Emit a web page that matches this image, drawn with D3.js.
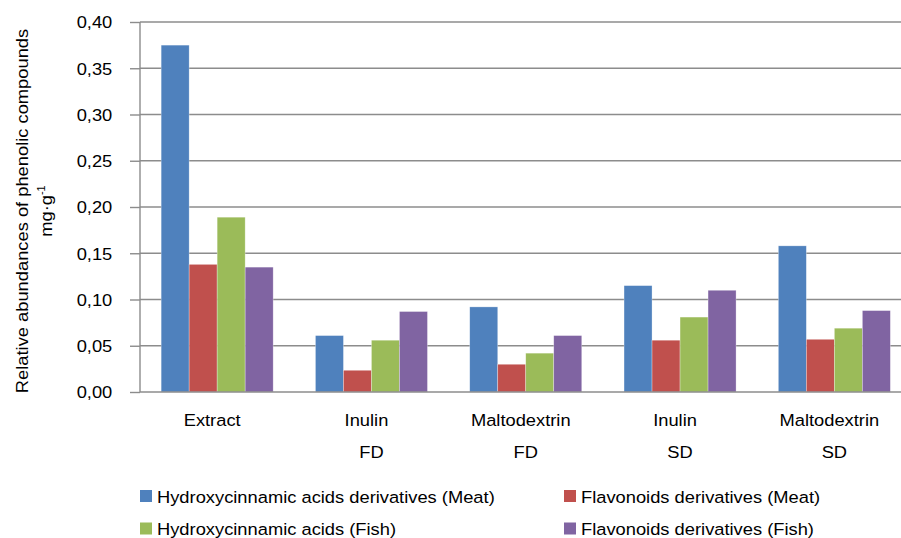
<!DOCTYPE html>
<html><head><meta charset="utf-8">
<script src="https://cdn.jsdelivr.net/npm/d3@7"></script>
<style>body{margin:0;background:#fff}svg{display:block;font-family:"Liberation Sans",Arial,sans-serif}</style>
</head><body>
<svg id="c" width="901" height="538"></svg>
<script>
const categories = [["Extract"], ["Inulin","FD"], ["Maltodextrin","FD"], ["Inulin","SD"], ["Maltodextrin","SD"]];
const seriesNames = ["Hydroxycinnamic acids derivatives (Meat)", "Flavonoids derivatives (Meat)", "Hydroxycinnamic acids (Fish)", "Flavonoids derivatives (Fish)"];
const seriesColors = ["#4F81BD", "#C0504D", "#9BBB59", "#8064A2"];
const hydroxyMeat = [0.375, 0.061, 0.092, 0.115, 0.158];
const flavMeat    = [0.138, 0.0235, 0.030, 0.056, 0.057];
const hydroxyFish = [0.189, 0.056, 0.042, 0.081, 0.069];
const flavFish    = [0.135, 0.087, 0.061, 0.110, 0.088];
const yTicks = [0, 0.05, 0.10, 0.15, 0.20, 0.25, 0.30, 0.35, 0.40];
const series = [hydroxyMeat, flavMeat, hydroxyFish, flavFish];

(function(){
const svg = d3.select("#c");
const FS = 16.5, SX = 1.11;
const pl = 140, pr = 911.5, pt = 22, pb = 392;
const x0 = d3.scaleBand().domain(d3.range(categories.length)).range([pl, pr]).padding(0);
const bw = x0.bandwidth();
const x1 = d3.scaleBand().domain(d3.range(series.length)).range([bw*0.137, bw*0.863]).padding(0);
const y = d3.scaleLinear().domain([0, 0.40]).range([pb, pt]);
const fmt = v => d3.format(".2f")(v).replace(".", ",");

function stext(parent, x, yy, anchor, rot) {
  return parent.append("text")
    .attr("transform", `translate(${x},${yy})${rot ? " rotate(-90)" : ""} scale(${SX},1)`)
    .attr("text-anchor", anchor).attr("font-size", FS).attr("fill", "#000");
}

// gridlines
svg.append("g").selectAll("line").data(yTicks.filter(t=>t>0)).join("line")
  .attr("x1", pl).attr("x2", 901).attr("y1", d=>y(d)).attr("y2", d=>y(d))
  .attr("stroke", "#8c8c8c").attr("stroke-width", 1.4);

// y axis
const yAxis = d3.axisLeft(y).tickValues(yTicks).tickFormat(fmt).tickSize(10).tickPadding(18);
const gy = svg.append("g").attr("transform", `translate(${pl},0)`).call(yAxis);
gy.select(".domain").attr("stroke", "#8c8c8c").attr("stroke-width", 1.4).attr("d", `M0,${pt}V${pb}`);
gy.selectAll(".tick line").attr("stroke", "#8c8c8c").attr("stroke-width", 1.4);
gy.selectAll(".tick text").attr("font-size", FS).attr("fill", "#000")
  .attr("font-family", "Liberation Sans, Arial, sans-serif")
  .attr("x", -27.7 / SX).attr("dy", "0.36em").attr("transform", `scale(${SX},1)`);

// bars
const groups = svg.append("g").selectAll("g").data(categories.map((c,i)=>i)).join("g")
  .attr("transform", i => `translate(${x0(i)},0)`);
groups.selectAll("rect").data(i => series.map((s,k)=>({k, v:s[i]}))).join("rect")
  .attr("x", d => x1(d.k)).attr("width", x1.bandwidth())
  .attr("y", d => y(d.v)).attr("height", d => pb - y(d.v))
  .attr("fill", d => seriesColors[d.k])
  .attr("stroke", "rgba(255,255,255,0.5)").attr("stroke-width", 0.6);

// x axis line
svg.append("line").attr("x1", pl).attr("x2", 901).attr("y1", pb).attr("y2", pb)
  .attr("stroke", "#8c8c8c").attr("stroke-width", 1.4);

// category labels
const xl = svg.append("g");
categories.forEach((lines, i) => {
  lines.forEach((t, j) => {
    const dx = (j === 0) ? -5 : 0;
    stext(xl, x0(i) + bw/2 + dx, 426 + j*32, "middle").text(t);
  });
});

// y title
stext(svg, 28, 211, "middle", true).text("Relative abundances of phenolic compounds");
const yt2 = stext(svg, 52, 211, "middle", true);
yt2.append("tspan").text("mg·g");
yt2.append("tspan").attr("font-size", 10).attr("dy", -7).text("-1");

// legend
const legPos = [[140, 496], [564, 496], [140, 528.5], [564, 528.5]];
const leg = svg.append("g").selectAll("g").data(seriesNames).join("g")
  .attr("transform", (d,i) => `translate(${legPos[i][0]},${legPos[i][1]})`);
leg.append("rect").attr("x", 0).attr("y", -6).attr("width", 12).attr("height", 12)
  .attr("fill", (d,i) => seriesColors[i]);
leg.append("text").attr("transform", `translate(17,6.5) scale(${SX},1)`)
  .attr("font-size", FS).attr("fill", "#000").text(d => d);
})();
</script>
</body></html>
